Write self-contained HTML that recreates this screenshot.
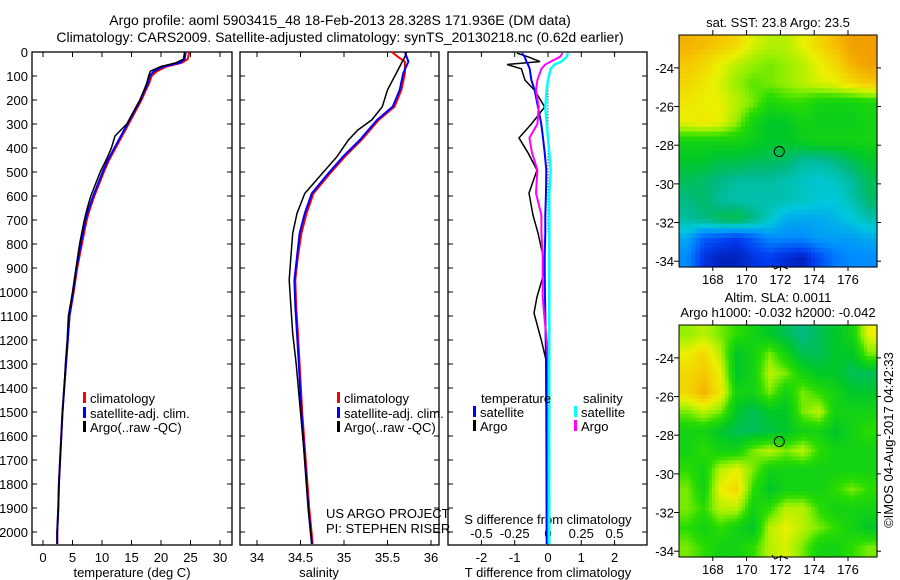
<!DOCTYPE html>
<html><head><meta charset="utf-8">
<style>
html,body{margin:0;padding:0;background:#fff;}
svg{display:block;font-family:"Liberation Sans",sans-serif;}
text{fill:#000;}
</style></head>
<body>
<svg id="fig" width="900" height="580" viewBox="0 0 900 580">
<text x="340" y="25" font-size="14" text-anchor="middle">Argo profile: aoml 5903415_48 18-Feb-2013 28.328S 171.936E (DM data)</text>
<text x="340" y="42" font-size="14" text-anchor="middle">Climatology: CARS2009. Satellite-adjusted climatology: synTS_20130218.nc (0.62d earlier)</text>
<g id="g"></g>
</svg>
<script>
// ---------- DATA ----------
const depthTicks=[0,100,200,300,400,500,600,700,800,900,1000,1100,1200,1300,1400,1500,1600,1700,1800,1900,2000];
const tempTicks=[0,5,10,15,20,25,30];
const salTicks=[34,34.5,35,35.5,36];
const salTickLabels=["34","34.5","35","35.5","36"];
const tdiffTicks=[-2,-1,0,1,2];
const sdiffTicks=[-0.5,-0.25,0,0.25,0.5];
const sdiffTickLabels=["-0.5","-0.25","0","0.25","0.5"];

const tDepth=[0,30,45,60,80,100,130,160,200,250,300,350,400,450,500,550,600,650,700,800,900,1000,1100,1200,1300,1400,1500,1600,1700,1800,1900,2000,2050];
const tClim =[24.8,24.5,23.5,21.0,19.3,18.4,18.0,17.4,16.7,15.6,14.5,13.4,12.3,11.2,10.3,9.5,8.7,8.0,7.4,6.6,5.8,5.2,4.5,4.2,3.9,3.6,3.3,3.1,2.9,2.7,2.6,2.4,2.4];
const tSat  =[24.2,24.0,23.2,20.5,18.8,18.1,17.8,17.2,16.5,15.4,14.3,13.2,12.1,11.0,10.1,9.3,8.5,7.8,7.2,6.4,5.7,5.1,4.5,4.2,3.9,3.6,3.3,3.1,2.9,2.7,2.6,2.4,2.4];
const tArgo =[24.0,23.8,22.5,20.0,18.2,17.9,17.6,17.1,16.4,15.3,14.2,12.2,11.6,10.7,9.7,8.9,8.1,7.5,7.0,6.2,5.6,5.0,4.3,4.1,3.8,3.6,3.3,3.1,2.9,2.7,2.6,2.4,2.4];

const sDepth=[0,20,40,89,158,228,283,325,367,436,506,589,672,756,853,950,1061,1172,1300,1500,1700,1900,2050];
const sClim =[35.55,35.62,35.70,35.70,35.66,35.58,35.40,35.30,35.20,35.01,34.84,34.65,34.57,34.51,34.47,34.44,34.45,34.47,34.49,34.52,34.56,34.60,34.64];
const sSat  =[35.70,35.72,35.74,35.68,35.64,35.56,35.38,35.28,35.18,34.99,34.82,34.63,34.55,34.49,34.46,34.43,34.44,34.46,34.48,34.51,34.55,34.59,34.63];
const sArgo =[35.72,35.70,35.67,35.60,35.50,35.44,35.32,35.16,35.05,34.92,34.75,34.55,34.46,34.41,34.39,34.37,34.39,34.41,34.45,34.50,34.55,34.59,34.63];

const dDepth=[5,20,40,52,70,117,160,229,300,358,420,492,588,680,754,850,921,1020,1088,1200,1283,1500,2050];
const dTArgo=[-0.93,-0.6,-0.24,-1.23,-0.8,-0.69,-0.4,-0.1,-0.5,-0.87,-0.6,-0.33,-0.57,-0.45,-0.3,-0.15,-0.12,-0.33,-0.42,-0.2,-0.06,-0.05,-0.04];
const dTSat =[-0.78,-0.7,-0.65,-0.6,-0.55,-0.5,-0.4,-0.3,-0.2,-0.15,-0.1,-0.05,-0.06,-0.08,-0.08,-0.1,-0.1,-0.09,-0.08,-0.07,-0.06,-0.05,-0.04];
const dSArgo=[0.11,0.09,0.02,-0.02,-0.05,-0.08,-0.09,-0.07,-0.08,-0.14,-0.12,-0.08,-0.09,-0.05,-0.05,-0.04,-0.04,-0.04,-0.03,-0.01,0,0,0];
const dSSat =[0.15,0.14,0.1,0.05,0.02,0,-0.01,-0.02,-0.01,0,0.01,0.02,0.01,0.01,0.01,0.01,0.01,0.01,0.01,0.01,0.01,0.01,0.01];

const lonTicks=[168,170,172,174,176];
const lat1Ticks=[-24,-26,-28,-30,-32,-34];
const sstGrid=[
[0.92,0.9,0.88,0.85,0.78,0.75,0.75,0.8,0.85,0.9,0.95,0.95],
[0.88,0.85,0.8,0.75,0.72,0.7,0.72,0.75,0.8,0.85,0.92,0.95],
[0.85,0.82,0.78,0.72,0.68,0.7,0.72,0.75,0.78,0.8,0.85,0.88],
[0.82,0.8,0.8,0.75,0.7,0.62,0.65,0.65,0.6,0.6,0.6,0.62],
[0.8,0.82,0.8,0.72,0.6,0.55,0.55,0.6,0.58,0.58,0.58,0.6],
[0.6,0.6,0.6,0.6,0.58,0.55,0.55,0.58,0.6,0.6,0.6,0.6],
[0.55,0.55,0.52,0.52,0.5,0.5,0.48,0.42,0.42,0.45,0.5,0.55],
[0.5,0.48,0.45,0.42,0.42,0.42,0.4,0.38,0.36,0.38,0.42,0.5],
[0.45,0.48,0.42,0.4,0.4,0.4,0.4,0.38,0.36,0.35,0.4,0.48],
[0.42,0.45,0.5,0.52,0.45,0.38,0.3,0.3,0.3,0.32,0.35,0.4],
[0.3,0.18,0.15,0.12,0.18,0.25,0.25,0.25,0.28,0.28,0.28,0.3],
[0.25,0.1,0.05,0.05,0.1,0.12,0.08,0.05,0.15,0.22,0.25,0.25]];
const slaGrid=[
[0.72,0.75,0.7,0.65,0.6,0.55,0.5,0.45,0.5,0.55,0.6,0.8],
[0.8,0.85,0.75,0.55,0.6,0.7,0.6,0.5,0.5,0.55,0.55,0.7],
[0.85,0.88,0.8,0.55,0.6,0.75,0.7,0.6,0.55,0.55,0.5,0.5],
[0.85,0.92,0.82,0.6,0.6,0.7,0.6,0.7,0.65,0.6,0.55,0.55],
[0.7,0.75,0.7,0.55,0.5,0.55,0.55,0.7,0.75,0.6,0.6,0.6],
[0.6,0.6,0.55,0.5,0.5,0.52,0.55,0.6,0.6,0.55,0.6,0.65],
[0.6,0.65,0.6,0.6,0.7,0.75,0.7,0.75,0.65,0.6,0.6,0.6],
[0.65,0.6,0.75,0.8,0.7,0.6,0.6,0.6,0.6,0.6,0.6,0.6],
[0.7,0.6,0.8,0.85,0.65,0.55,0.6,0.6,0.6,0.65,0.7,0.65],
[0.7,0.65,0.75,0.75,0.6,0.65,0.75,0.75,0.65,0.6,0.6,0.6],
[0.65,0.6,0.65,0.6,0.55,0.75,0.8,0.75,0.7,0.65,0.6,0.55],
[0.7,0.65,0.6,0.6,0.65,0.75,0.78,0.7,0.6,0.6,0.65,0.7]];
const argoLon=171.936, argoLat=-28.328;

// ---------- DRAW ----------
const NS="http://www.w3.org/2000/svg";
const G=document.getElementById('g');
function el(tag,attrs,parent){const e=document.createElementNS(NS,tag);for(const k in attrs)e.setAttribute(k,attrs[k]);(parent||G).appendChild(e);return e;}
function txt(x,y,s,size,anchor,parent){const t=el('text',{x:x,y:y,'font-size':size||13,'text-anchor':anchor||'middle'},parent);t.textContent=s;return t;}

const TOP=52,BOT=545;
const yD=d=>TOP+d*0.24;
function frame(x0,x1,name){
  const r=el('rect',{x:x0,y:TOP,width:x1-x0,height:BOT-TOP,fill:'none',stroke:'#000','stroke-width':1.3});
  
  
  depthTicks.forEach(d=>{el('line',{x1:x0,x2:x0+5,y1:yD(d),y2:yD(d),stroke:'#000'});el('line',{x1:x1-5,x2:x1,y1:yD(d),y2:yD(d),stroke:'#000'});});
}
function line(xs,ds,fx,color,w,name){
  const pts=xs.map((v,i)=>fx(v).toFixed(1)+','+yD(ds[i]).toFixed(1)).join(' ');
  const p=el('polyline',{points:pts,fill:'none',stroke:color,'stroke-width':w||2});
  
  
}
function legendRow(x,y,color,label,name){
  const g=el('g',{});
  
  
  el('rect',{x:x,y:y-11,width:3,height:11,fill:color},g);
  txt(x+7,y,label,13,'start',g);
}

// Panel 1: temperature
const xT=v=>43+v*5.9;
frame(32,232,'temperature-panel');
depthTicks.forEach(d=>{txt(28,yD(d)+5,String(d),13,'end');});
tempTicks.forEach(v=>{el('line',{x1:xT(v),x2:xT(v),y1:BOT,y2:BOT-5,stroke:'#000'});el('line',{x1:xT(v),x2:xT(v),y1:TOP,y2:TOP+5,stroke:'#000'});txt(xT(v),562,String(v));});
txt(132,577,'temperature (deg C)');
line(tClim,tDepth,xT,'#f00',2,'temp-climatology-line');
line(tSat,tDepth,xT,'#00f',2,'temp-satellite-line');
line(tArgo,tDepth,xT,'#000',1.5,'temp-argo-line');
legendRow(83,403,'#f00','climatology','legend-climatology');
legendRow(83,418,'#00f','satellite-adj. clim.','legend-satellite');
legendRow(83,432,'#000','Argo(..raw -QC)','legend-argo');

// Panel 2: salinity
const xS=v=>257+(v-34)*87;
frame(240,439,'salinity-panel');
salTicks.forEach((v,i)=>{el('line',{x1:xS(v),x2:xS(v),y1:BOT,y2:BOT-5,stroke:'#000'});el('line',{x1:xS(v),x2:xS(v),y1:TOP,y2:TOP+5,stroke:'#000'});txt(xS(v),562,salTickLabels[i]);});
txt(319,577,'salinity');
line(sClim,sDepth,xS,'#f00',2,'sal-climatology-line');
line(sSat,sDepth,xS,'#00f',2,'sal-satellite-line');
line(sArgo,sDepth,xS,'#000',1.5,'sal-argo-line');
legendRow(337,403,'#f00','climatology','legend-sal-climatology');
legendRow(337,418,'#00f','satellite-adj. clim.','legend-sal-satellite');
legendRow(337,432,'#000','Argo(..raw -QC)','legend-sal-argo');
txt(326,518,'US ARGO PROJECT',13,'start');
txt(326,533,'PI: STEPHEN RISER',13,'start');

// Panel 3: differences
const xTd=v=>548+v*33.3;
const xSd=v=>548+v*133;
frame(448,647,'difference-panel');
tdiffTicks.forEach(v=>{el('line',{x1:xTd(v),x2:xTd(v),y1:BOT,y2:BOT-5,stroke:'#000'});el('line',{x1:xTd(v),x2:xTd(v),y1:TOP,y2:TOP+5,stroke:'#000'});txt(xTd(v),562,String(v));});
sdiffTicks.forEach((v,i)=>txt(xSd(v),538,sdiffTickLabels[i]));
txt(548,524,'S difference from climatology');
txt(548,577,'T difference from climatology');
el('line',{x1:548,x2:548,y1:yD(110),y2:yD(750),stroke:'#000','stroke-dasharray':'1,2'});
line(dTArgo,dDepth,xTd,'#000',1.5,'tdiff-argo-line');
line(dTSat,dDepth,xTd,'#00f',2,'tdiff-satellite-line');
line(dSArgo,dDepth,xSd,'#f0f',2,'sdiff-argo-line');
line(dSSat,dDepth,xSd,'#0ff',2.5,'sdiff-satellite-line');
txt(481,403,'temperature',13,'start');
txt(583,403,'salinity',13,'start');
legendRow(473,417,'#00f','satellite','legend-tdiff-satellite');
legendRow(473,431,'#000','Argo','legend-tdiff-argo');
legendRow(574,417,'#0ff','satellite','legend-sdiff-satellite');
legendRow(574,431,'#f0f','Argo','legend-sdiff-argo');

// Maps
const stops=[[0,[0,16,150]],[0.12,[0,60,240]],[0.25,[0,140,255]],[0.35,[0,200,220]],[0.45,[0,185,130]],[0.55,[0,200,40]],[0.65,[40,220,0]],[0.72,[150,240,0]],[0.8,[235,240,0]],[0.88,[245,200,0]],[1,[240,130,0]]];
function cmap(v){for(let i=1;i<stops.length;i++){if(v<=stops[i][0]){const a=stops[i-1],b=stops[i];const t=(v-a[0])/(b[0]-a[0]);return 'rgb('+a[1].map((c,k)=>Math.round(c+(b[1][k]-c)*t)).join(',')+')';}}return 'rgb(240,130,0)';}
function sample(grid,fr,fc){
  const R=grid.length-1,C=grid[0].length-1;
  fr=Math.max(0,Math.min(R,fr));fc=Math.max(0,Math.min(C,fc));
  const r0=Math.floor(fr),c0=Math.floor(fc),r1=Math.min(R,r0+1),c1=Math.min(C,c0+1),tr=fr-r0,tc=fc-c0;
  return (grid[r0][c0]*(1-tc)+grid[r0][c1]*tc)*(1-tr)+(grid[r1][c0]*(1-tc)+grid[r1][c1]*tc)*tr;
}
function map(x0,y0,w,h,grid,name,title1,title2,up){
  const g=el('g',{});
  
  
  const rows=grid.length*up,cols=grid[0].length*up,cw=w/cols,ch=h/rows;
  for(let r=0;r<rows;r++)for(let c=0;c<cols;c++){
    const v=sample(grid,(r+0.5)/up-0.5,(c+0.5)/up-0.5);
    el('rect',{x:(x0+c*cw).toFixed(2),y:(y0+r*ch).toFixed(2),width:(cw+0.6).toFixed(2),height:(ch+0.6).toFixed(2),fill:cmap(v)},g);
  }
  const lonX=lo=>x0+(lo-166)*16.9;
  const latY=la=>y0+(-22.3-la)*(h/12);
  el('rect',{x:x0,y:y0,width:w,height:h,fill:'none',stroke:'#000','stroke-width':1},g);
  lonTicks.forEach(lo=>{el('line',{x1:lonX(lo),x2:lonX(lo),y1:y0-5,y2:y0,stroke:'#000'},g);el('line',{x1:lonX(lo),x2:lonX(lo),y1:y0+h,y2:y0+h+4,stroke:'#000'},g);txt(lonX(lo),y0+h+17,String(lo),13,'middle',g);});
  lat1Ticks.forEach(la=>{el('line',{x1:x0-5,x2:x0,y1:latY(la),y2:latY(la),stroke:'#000'},g);el('line',{x1:x0+w,x2:x0+w+4,y1:latY(la),y2:latY(la),stroke:'#000'},g);txt(x0-5,latY(la)+5,String(la),13,'end',g);});
  const c=el('circle',{cx:lonX(argoLon),cy:latY(argoLat),r:5,fill:'none',stroke:'#000','stroke-width':1},g);
  
  
  el('path',{d:`M${lonX(171.5)} ${y0+h-2} l3 4 l6 -3 l7 3`,fill:'none',stroke:'#000'},g);
  if(title1)txt(x0+w/2,y0-(title2?23:8),title1,13,'middle',g);
  if(title2)txt(x0+w/2,y0-8,title2,13,'middle',g);
}
map(679,35,198,232,sstGrid,'sst-map','sat. SST: 23.8  Argo: 23.5',null,4);
map(679,325,198,232,slaGrid,'sla-map','Altim. SLA: 0.0011','Argo h1000: -0.032 h2000: -0.042',5);
const ts=el('text',{x:893,y:440,'font-size':13,'text-anchor':'middle',transform:'rotate(-90 893 440)'});
ts.textContent='©IMOS 04-Aug-2017 04:42:33';


</script>
</body></html>
